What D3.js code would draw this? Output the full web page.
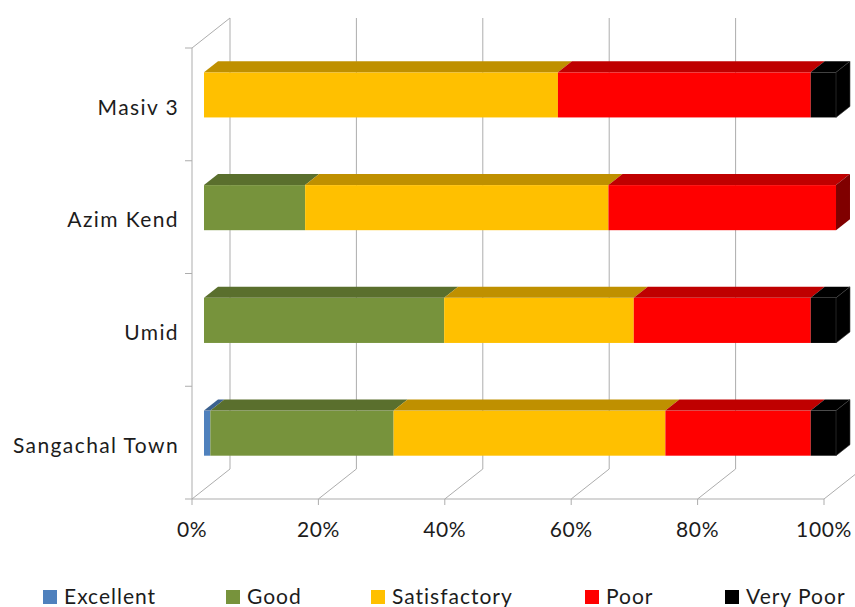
<!DOCTYPE html>
<html>
<head>
<meta charset="utf-8">
<script src="https://cdn.jsdelivr.net/npm/d3@7"></script>
<style>
  html, body { margin: 0; padding: 0; background: #fff; }
  svg { display: block; }
  text { font-family: Lato, "Open Sans", sans-serif; fill: #1c1c1c; }
</style>
</head>
<body>
<svg id="chart" width="855" height="607"></svg>
<script>
// Categories (bottom to top) and percentage shares per rating
const categories = ["Sangachal Town", "Umid", "Azim Kend", "Masiv 3"];
const excellent    = [1, 0, 0, 0];
const good         = [29, 38, 16, 0];
const satisfactory = [43, 30, 48, 56];
const poor         = [23, 28, 36, 40];
const veryPoor     = [4, 4, 0, 4];
const seriesNames  = ["Excellent", "Good", "Satisfactory", "Poor", "Very Poor"];
const tickValues   = [0, 20, 40, 60, 80, 100];

const frontColors = ["#4F81BD", "#77933C", "#FFC000", "#FF0000", "#000000"];
const topColors   = ["#3B618F", "#5A6F2D", "#BF9000", "#BF0000", "#000000"];
const sideColors  = ["#284060", "#3C4A1E", "#806000", "#800000", "#000000"];

const rows = categories.map((c, i) => ({
  category: c,
  "Excellent": excellent[i],
  "Good": good[i],
  "Satisfactory": satisfactory[i],
  "Poor": poor[i],
  "Very Poor": veryPoor[i]
}));
const stacked = d3.stack().keys(seriesNames)(rows);

const svg = d3.select("#chart");

// Front plane of the plot box and its depth offset (oblique projection)
const x = d3.scaleLinear().domain([0, 100]).range([192, 824]);
const y = d3.scaleBand().domain(categories).range([499, 48]).padding(0);
const depth = { dx: 38, dy: -30 };
const barFront = 0.316, barBack = 0.684;   // bar occupies the middle of the depth
const barHeight = y.bandwidth() * 0.4;

const P = (v, yy, f) => [x(v) + depth.dx * f, yy + depth.dy * f];
const grid = "#ADADAD";

const walls = svg.append("g").attr("stroke", grid).attr("stroke-width", 1).attr("fill", "none");

// back-wall gridlines
walls.selectAll("line.grid").data(tickValues).join("line")
  .attr("class", "grid")
  .attr("x1", d => P(d, 499, 1)[0]).attr("x2", d => P(d, 48, 1)[0])
  .attr("y1", P(0, 499, 1)[1]).attr("y2", P(0, 48, 1)[1]);

// floor diagonals
walls.selectAll("line.floor").data(tickValues).join("line")
  .attr("class", "floor")
  .attr("x1", d => x(d)).attr("y1", 499)
  .attr("x2", d => P(d, 499, 1)[0]).attr("y2", d => P(d, 499, 1)[1]);

// left wall: front edge and top edge
walls.append("line").attr("x1", x(0)).attr("x2", x(0)).attr("y1", 48).attr("y2", 499);
walls.append("line").attr("x1", x(0)).attr("y1", 48)
  .attr("x2", P(0, 48, 1)[0]).attr("y2", P(0, 48, 1)[1]);

// floor front edge
walls.append("line").attr("x1", x(0)).attr("x2", x(100)).attr("y1", 499).attr("y2", 499);

// category axis ticks (band boundaries)
const catTicks = [48, ...categories.map(c => y(c) + y.bandwidth())];
walls.selectAll("line.ctick").data(catTicks).join("line")
  .attr("class", "ctick")
  .attr("x1", x(0) - 7).attr("x2", x(0)).attr("y1", d => d).attr("y2", d => d);

// value axis ticks
walls.selectAll("line.vtick").data(tickValues).join("line")
  .attr("class", "vtick")
  .attr("x1", d => x(d)).attr("x2", d => x(d)).attr("y1", 499).attr("y2", 505);

// value axis labels
svg.append("g").selectAll("text").data(tickValues).join("text")
  .attr("x", d => x(d)).attr("y", 537)
  .attr("text-anchor", "middle")
  .attr("font-size", 21)
  .style("letter-spacing", "0.6px")
  .text(d => d + "%");

// category labels
svg.append("g").selectAll("text").data(categories).join("text")
  .attr("x", 179).attr("y", c => y(c) + y.bandwidth() / 2 + 3)
  .attr("dy", "0.35em")
  .attr("text-anchor", "end")
  .attr("font-size", 21)
  .style("letter-spacing", "1.4px")
  .text(c => c);

// 3D stacked bars
const bars = svg.append("g");
categories.forEach((c, ci) => {
  const yc = y(c) + y.bandwidth() / 2;
  const yt = yc - barHeight / 2, yb = yc + barHeight / 2;
  const segs = stacked.map((s, si) => ({ si, v0: s[ci][0], v1: s[ci][1] }))
    .filter(d => d.v1 > d.v0);
  const g = bars.append("g");
  // front faces
  g.selectAll("rect").data(segs).join("rect")
    .attr("x", d => P(d.v0, yt, barFront)[0])
    .attr("y", P(0, yt, barFront)[1])
    .attr("width", d => x(d.v1) - x(d.v0))
    .attr("height", barHeight)
    .attr("fill", d => frontColors[d.si]);
  // top faces
  g.selectAll("polygon.top").data(segs).join("polygon")
    .attr("class", "top")
    .attr("points", d => [P(d.v0, yt, barFront), P(d.v1, yt, barFront),
                          P(d.v1, yt, barBack), P(d.v0, yt, barBack)].join(" "))
    .attr("fill", d => topColors[d.si]);
  // right end face of the last segment
  const last = segs[segs.length - 1];
  g.append("polygon")
    .attr("points", [P(last.v1, yt, barFront), P(last.v1, yt, barBack),
                     P(last.v1, yb, barBack), P(last.v1, yb, barFront)].join(" "))
    .attr("fill", sideColors[last.si])
    .attr("stroke", last.si === 4 ? "#3a3a3a" : "none")
    .attr("stroke-width", 0.6);
});

// legend
const legendX = [43, 226, 371, 585, 725];
const legend = svg.append("g").selectAll("g").data(seriesNames).join("g")
  .attr("transform", (d, i) => `translate(${legendX[i]},590)`);
legend.append("rect").attr("width", 14).attr("height", 14)
  .attr("fill", (d, i) => frontColors[i]);
legend.append("text").attr("x", 21).attr("y", 14)
  .attr("font-size", 21)
  .style("letter-spacing", "1px")
  .text(d => d);
</script>
</body>
</html>
